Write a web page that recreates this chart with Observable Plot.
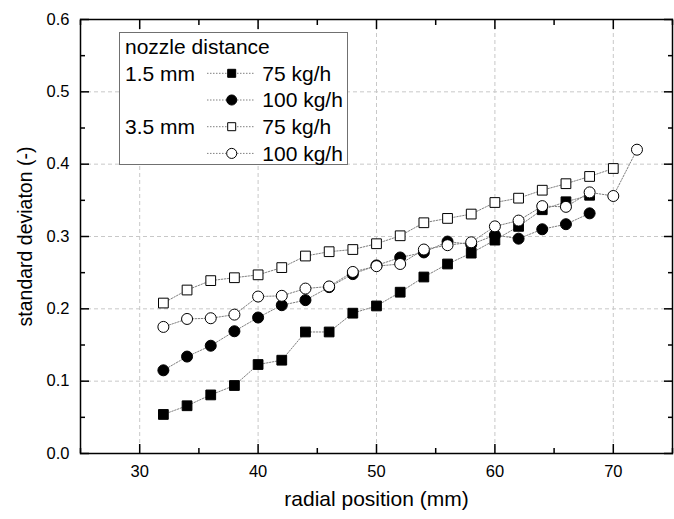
<!DOCTYPE html>
<html><head><meta charset="utf-8">
<script src="https://cdn.jsdelivr.net/npm/d3@7"></script>
<script src="https://cdn.jsdelivr.net/npm/@observablehq/plot@0.6"></script>
<style>
body{margin:0;background:#fff;}
#chart{position:relative;width:674px;height:519px;font-family:"Liberation Sans",Arial,sans-serif;}
#legend{position:absolute;left:119px;top:32px;}
</style></head><body><div id="chart"></div>
<script>
// radial positions (mm)
const radialA = [32,34,36,38,40,42,44,46,48,50,52,54,56,58,60,62,64,66,68];
const radialB = [32,34,36,38,40,42,44,46,48,50,52,54,56,58,60,62,64,66,68,70];
const radialC = [32,34,36,38,40,42,44,46,48,50,52,54,56,58,60,62,64,66,68,70,72];
// standard deviation values
const sd15_75  = [0.054,0.066,0.081,0.094,0.123,0.129,0.168,0.168,0.194,0.204,0.223,0.244,0.262,0.277,0.295,0.314,0.337,0.348,0.357];
const sd15_100 = [0.115,0.134,0.149,0.169,0.188,0.205,0.212,0.230,0.248,0.260,0.271,0.278,0.293,0.289,0.302,0.297,0.310,0.317,0.332];
const sd35_75  = [0.208,0.226,0.239,0.243,0.247,0.257,0.273,0.279,0.282,0.290,0.301,0.319,0.325,0.331,0.347,0.353,0.364,0.373,0.383,0.394];
const sd35_100 = [0.175,0.186,0.187,0.192,0.217,0.218,0.228,0.231,0.251,0.259,0.262,0.282,0.288,0.292,0.314,0.322,0.342,0.341,0.361,0.356,0.420];
// ticks
const xMajor = [30,40,50,60,70];
const xMinor = [25,35,45,55,65,75];
const yMajor = [0.0,0.1,0.2,0.3,0.4,0.5,0.6];
const yMinor = [0.05,0.15,0.25,0.35,0.45,0.55];
const xGrid = [30,40,50,60,70];
const yGrid = [0.1,0.2,0.3,0.4,0.5];
// legend labels
const legendTitle = "nozzle distance";
const groupLabels = ["1.5 mm","","3.5 mm",""];
const seriesLabels = ["75 kg/h","100 kg/h","75 kg/h","100 kg/h"];

const series = [
  {xs: radialA, ys: sd15_75,  symbol: "square", fill: "black"},
  {xs: radialA, ys: sd15_100, symbol: "circle", fill: "black"},
  {xs: radialB, ys: sd35_75,  symbol: "square", fill: "white"},
  {xs: radialC, ys: sd35_100, symbol: "circle", fill: "white"}
];
const tables = series.map((s, i) => s.xs.map((x, j) => ({x, y: s.ys[j], k: i})));

const blank = () => "";
const plot = Plot.plot({
  width: 674, height: 519,
  marginLeft: 80, marginRight: 2, marginTop: 19, marginBottom: 66,
  style: {fontFamily: "'Liberation Sans', Arial, sans-serif", fontSize: "16.5px", color: "#000", background: "#fff", overflow: "visible"},
  x: {domain: [25, 75]},
  y: {domain: [0, 0.6]},
  marks: [
    Plot.gridX(xGrid, {stroke: "#c8c8c8", strokeOpacity: 1, strokeDasharray: "4,3"}),
    Plot.gridY(yGrid, {stroke: "#c8c8c8", strokeOpacity: 1, strokeDasharray: "4,3"}),
    ...tables.map(t => Plot.line(t, {x: "x", y: "y", stroke: "#808080", strokeWidth: 1, strokeDasharray: "1.5,1.5"})),
    ...tables.map((t, i) => Plot.dot(t, {x: "x", y: "y", symbol: series[i].symbol, r: 5.5, fill: series[i].fill, stroke: "black", strokeWidth: 1})),
    Plot.axisX(xMajor, {tickSize: -9, tickPadding: 21, strokeWidth: 1.5, fontSize: 16.5, tickFormat: d => d,
      label: "radial position (mm)", labelAnchor: "center", labelArrow: "none", labelOffset: 52}),
    Plot.axisX(xMinor, {tickSize: -5, strokeWidth: 1.5, tickFormat: blank, label: null}),
    Plot.axisX(xMajor, {anchor: "top", tickSize: -9, strokeWidth: 1.5, tickFormat: blank, label: null}),
    Plot.axisX(xMinor, {anchor: "top", tickSize: -5, strokeWidth: 1.5, tickFormat: blank, label: null}),
    Plot.axisY(yMajor, {tickSize: -9, tickPadding: 20, strokeWidth: 1.5, fontSize: 16.5, tickFormat: d3.format(".1f"),
      label: "standard deviaton (-)", labelAnchor: "center", labelArrow: "none", labelOffset: 62}),
    Plot.axisY(yMinor, {tickSize: -5, strokeWidth: 1.5, tickFormat: blank, label: null}),
    Plot.axisY(yMajor, {anchor: "right", tickSize: -9, strokeWidth: 1.5, tickFormat: blank, label: null}),
    Plot.axisY(yMinor, {anchor: "right", tickSize: -5, strokeWidth: 1.5, tickFormat: blank, label: null}),
    Plot.frame({stroke: "black", strokeWidth: 1.5})
  ]
});
const chart = document.getElementById("chart");
chart.appendChild(plot);
// enlarge axis label fonts
d3.select(plot).selectAll("g[aria-label='x-axis label'] text").style("font-size", "21px");
d3.select(plot).selectAll("g[aria-label='y-axis label'] text").style("font-size", "19.5px");

// legend
const W = 229, H = 133;
const lg = d3.select(chart).append("svg").attr("id", "legend").attr("width", W).attr("height", H)
  .style("font-family", "'Liberation Sans', Arial, sans-serif");
lg.append("rect").attr("x", 0.5).attr("y", 0.5).attr("width", W - 1).attr("height", H - 1)
  .attr("fill", "white").attr("stroke", "#707070").attr("stroke-width", 1);
lg.append("text").attr("x", 6).attr("y", 14.7).attr("dy", "0.35em").attr("font-size", 21).text(legendTitle);
seriesLabels.forEach((lab, i) => {
  const cy = 41.3 + i * 26.7;
  if (groupLabels[i]) lg.append("text").attr("x", 6).attr("y", cy).attr("dy", "0.35em").attr("font-size", 21).text(groupLabels[i]);
  lg.append("line").attr("x1", 88).attr("x2", 136).attr("y1", cy).attr("y2", cy)
    .attr("stroke", "#808080").attr("stroke-dasharray", "1.5,1.5");
  const sym = d3.symbol(series[i].symbol === "square" ? d3.symbolSquare : d3.symbolCircle, series[i].symbol === "square" ? 64 : 80);
  lg.append("path").attr("d", sym()).attr("transform", `translate(112.7,${cy})`)
    .attr("fill", series[i].fill).attr("stroke", "black").attr("stroke-width", 1);
  lg.append("text").attr("x", 143.3).attr("y", cy).attr("dy", "0.35em").attr("font-size", 21).text(lab);
});
</script>
</body></html>
